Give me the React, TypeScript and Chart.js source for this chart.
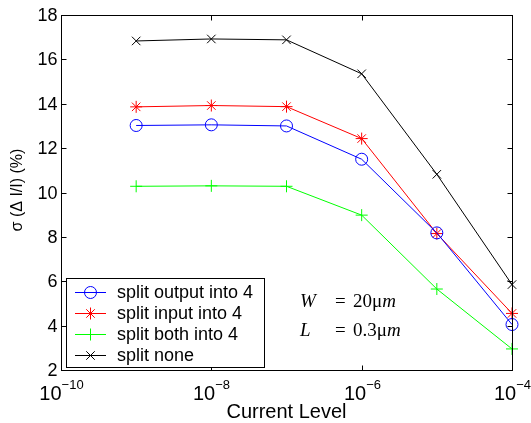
import React, { useEffect, useRef } from "react";
import { Chart, registerables } from "chart.js";

Chart.register(...registerables);

const currents = [1e-9, 1e-8, 1e-7, 1e-6, 1e-5, 1e-4];
const splitOutput = [13.02, 13.05, 13.0, 11.5, 8.18, 4.05];
const splitInput = [13.86, 13.92, 13.87, 12.43, 8.15, 4.55];
const splitBoth = [10.28, 10.3, 10.28, 8.98, 5.65, 2.95];
const splitNone = [16.83, 16.92, 16.88, 15.35, 10.82, 5.85];

const seriesLabels = ["split output into 4", "split input into 4", "split both into 4", "split none"];
const yTicks = [2, 4, 6, 8, 10, 12, 14, 16, 18];
const xTickExps = [-10, -8, -6, -4];
const xTitle = "Current Level";
const yTitle = "σ (Δ I/I) (%)";

const SANS = "'Liberation Sans', Arial, Helvetica, sans-serif";
const SERIF = "'Liberation Serif', 'Times New Roman', serif";

function drawMarker(ctx: CanvasRenderingContext2D, style: string, r: number, x: number, y: number) {
  ctx.beginPath();
  if (style === "circle") {
    ctx.arc(x, y, r, 0, Math.PI * 2);
  } else {
    const plus = () => {
      ctx.moveTo(x - r, y);
      ctx.lineTo(x + r, y);
      ctx.moveTo(x, y - r);
      ctx.lineTo(x, y + r);
    };
    const cross = () => {
      const d = r * Math.SQRT1_2;
      ctx.moveTo(x - d, y - d);
      ctx.lineTo(x + d, y + d);
      ctx.moveTo(x - d, y + d);
      ctx.lineTo(x + d, y - d);
    };
    if (style === "cross" || style === "star") plus();
    if (style === "crossRot" || style === "star") cross();
  }
  ctx.stroke();
}

const customPlugin = {
  id: "matlabAxes",
  afterDraw(chart: any) {
    const { ctx, chartArea: a, scales } = chart;
    const xs = scales.x;
    const ys = scales.y;
    ctx.save();
    ctx.strokeStyle = "#000";
    ctx.fillStyle = "#000";
    ctx.lineWidth = 1;
    const L = Math.round(a.left) + 0.5;
    const R = Math.round(a.right) + 0.5;
    const T = Math.round(a.top) + 0.5;
    const B = Math.round(a.bottom) + 0.5;
    ctx.strokeRect(L, T, R - L, B - T);
    const tl = 5;
    // y ticks
    ctx.font = `18px ${SANS}`;
    ctx.textAlign = "right";
    ctx.textBaseline = "middle";
    yTicks.forEach((v) => {
      const py = Math.round(ys.getPixelForValue(v)) + 0.5;
      ctx.beginPath();
      ctx.moveTo(L, py);
      ctx.lineTo(L + tl, py);
      ctx.moveTo(R, py);
      ctx.lineTo(R - tl, py);
      ctx.stroke();
      ctx.fillText(String(v), L - 4, py + 1);
    });
    // x ticks
    xTickExps.forEach((e) => {
      const px = Math.round(xs.getPixelForValue(Math.pow(10, e))) + 0.5;
      ctx.beginPath();
      ctx.moveTo(px, B);
      ctx.lineTo(px, B - tl);
      ctx.moveTo(px, T);
      ctx.lineTo(px, T + tl);
      ctx.stroke();
      ctx.textAlign = "left";
      ctx.textBaseline = "alphabetic";
      ctx.font = `20px ${SANS}`;
      const base = "10";
      const wb = ctx.measureText(base).width;
      ctx.font = `13px ${SANS}`;
      const ex = "\u2212" + String(-e);
      const we = ctx.measureText(ex).width;
      const start = px - (wb + we) / 2;
      ctx.font = `20px ${SANS}`;
      ctx.fillText(base, start, 400);
      ctx.font = `13px ${SANS}`;
      ctx.fillText(ex, start + wb, 389);
    });
    // axis titles
    ctx.font = `20px ${SANS}`;
    ctx.textAlign = "center";
    ctx.textBaseline = "alphabetic";
    ctx.fillText(xTitle, (a.left + a.right) / 2, 418);
    ctx.save();
    ctx.translate(18, 190);
    ctx.rotate(-Math.PI / 2);
    ctx.font = `16px ${SANS}`;
    ctx.textBaseline = "middle";
    ctx.fillText(yTitle, 0, 0);
    ctx.restore();

    // annotation
    const drawTokens = (tokens: [string, boolean][], x: number, y: number) => {
      let cx = x;
      tokens.forEach(([t, it]) => {
        ctx.font = `${it ? "italic " : ""}19px ${SERIF}`;
        ctx.fillText(t, cx, y);
        cx += ctx.measureText(t).width;
      });
    };
    ctx.textAlign = "left";
    ctx.textBaseline = "alphabetic";
    drawTokens([["W", true]], 300, 307);
    drawTokens([["=", false]], 335, 307);
    drawTokens([["20μ", false], ["m", true]], 353, 307);
    drawTokens([["L", true]], 300, 336);
    drawTokens([["=", false]], 335, 336);
    drawTokens([["0.3μ", false], ["m", true]], 353, 336);

    // legend
    const lx = 66.5, ly = 278.5, lw = 198, lh = 89;
    ctx.fillStyle = "#fff";
    ctx.fillRect(lx, ly, lw, lh);
    ctx.strokeStyle = "#000";
    ctx.strokeRect(lx, ly, lw, lh);
    chart.data.datasets.forEach((ds: any, i: number) => {
      const ry = 292 + i * 21 + 0.5;
      ctx.strokeStyle = ds.borderColor;
      ctx.lineWidth = 1;
      ctx.beginPath();
      ctx.moveTo(75, ry);
      ctx.lineTo(106, ry);
      ctx.stroke();
      drawMarker(ctx, ds.pointStyle, ds.pointRadius, 90.5, ry);
      ctx.fillStyle = "#000";
      ctx.font = `18px ${SANS}`;
      ctx.textAlign = "left";
      ctx.textBaseline = "middle";
      ctx.fillText(ds.label, 117, ry + 1);
    });
    ctx.restore();
  },
};

export default function App() {
  const ref = useRef<HTMLCanvasElement | null>(null);
  useEffect(() => {
    document.body.style.margin = "0";
    if (!ref.current) return;
    const mk = (vals: number[], label: string, color: string, style: string, r: number) => ({
      label,
      data: currents.map((c, i) => ({ x: c, y: vals[i] })),
      borderColor: color,
      backgroundColor: color,
      borderWidth: 1,
      pointStyle: style,
      pointRadius: r,
      pointBorderColor: color,
      pointBackgroundColor: "rgba(0,0,0,0)",
      pointBorderWidth: 1,
      tension: 0,
      clip: false as any,
    });
    const chart = new Chart(ref.current, {
      type: "line",
      data: {
        datasets: [
          mk(splitOutput, seriesLabels[0], "#0000ff", "circle", 6),
          mk(splitInput, seriesLabels[1], "#ff0000", "star", 6),
          mk(splitBoth, seriesLabels[2], "#00ff00", "cross", 6),
          mk(splitNone, seriesLabels[3], "#000000", "crossRot", 6),
        ],
      },
      options: {
        animation: false,
        responsive: false,
        devicePixelRatio: 1,
        layout: { padding: { left: 61, top: 15, right: 19, bottom: 53 } },
        plugins: { legend: { display: false }, tooltip: { enabled: false } },
        scales: {
          x: { type: "logarithmic", min: 1e-10, max: 1e-4, display: false },
          y: { type: "linear", min: 2, max: 18, display: false },
        },
      },
      plugins: [customPlugin],
    });
    return () => chart.destroy();
  }, []);
  return (
    <div style={{ width: 531, height: 423, background: "#fff" }}>
      <canvas ref={ref} width={531} height={423} style={{ display: "block" }} />
    </div>
  );
}
